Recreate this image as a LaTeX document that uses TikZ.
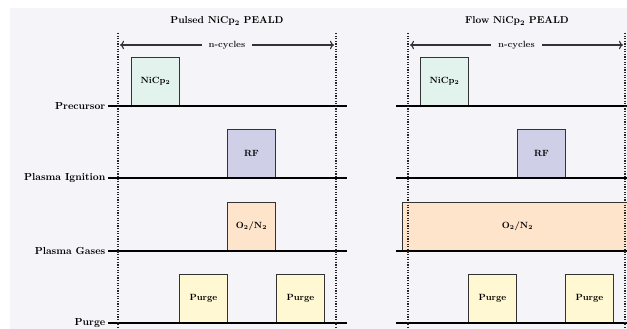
\documentclass[tikz,border=0pt]{standalone}
\usetikzlibrary{arrows.meta}
\definecolor{bgc}{HTML}{F5F5F9}
\definecolor{cNi}{HTML}{E2F3EE}
\definecolor{cRF}{HTML}{CFCFE8}
\definecolor{cGas}{HTML}{FFE4CC}
\definecolor{cPurge}{HTML}{FFF8D2}
\definecolor{edge}{HTML}{333333}
\begin{document}
\begin{tikzpicture}[x=1pt,y=-1pt,
  pulse/.style={draw=edge, line width=0.9pt, minimum width=48pt, minimum height=48pt,
    anchor=south west, inner sep=0pt, font=\fontsize{9}{10}\selectfont\bfseries},
  lbl/.style={anchor=east, inner sep=2.5pt, font=\fontsize{10.2}{12}\selectfont\bfseries},
  ttl/.style={font=\fontsize{10}{12}\selectfont\bfseries},
  base/.style={line width=1.8pt, black},
  dots/.style={line width=1.2pt, dash pattern=on 1.3pt off 1.3pt, black!85},
  cyc/.style={line width=1.1pt, edge, <->},
  cyclbl/.style={fill=bgc, inner xsep=7pt, inner ysep=1pt, font=\fontsize{9}{10}\selectfont\bfseries, text=black!85}
]
\clip (0,0) rectangle (627,329);
\fill[bgc] (10,8) rectangle (627,329);

% titles
\node[ttl] (t1) at (227,21) {Pulsed NiCp$_{\mathbf{2}}$ PEALD};
\node[ttl] (t2) at (517,21) {Flow NiCp$_{\mathbf{2}}$ PEALD};

% row labels and left baselines
\node[lbl] (lP) at (108,106) {Precursor};
\node[lbl] (lI) at (108,178) {Plasma Ignition};
\node[lbl] (lG) at (108,251) {Plasma Gases};
\node[lbl] (lU) at (108,323) {Purge};
\coordinate (eP) at (347,106);
\coordinate (eI) at (347,178);
\coordinate (eG) at (347,251);
\coordinate (eU) at (347,323);

% right baselines
\coordinate (sP) at (396,106); \coordinate (fP) at (640,106);
\coordinate (sI) at (396,178); \coordinate (fI) at (640,178);
\coordinate (sG) at (396,251); \coordinate (fG) at (640,251);
\coordinate (sU) at (396,323); \coordinate (fU) at (640,323);

% pulses left panel
\node[pulse, fill=cNi] (ni1) at (131,106) {NiCp$_{\mathbf{2}}$};
\node[pulse, fill=cRF] (rf1) at (227,178) {RF};
\node[pulse, fill=cGas] (gas1) at (227,251) {O$_{\mathbf{2}}$/N$_{\mathbf{2}}$};
\node[pulse, fill=cPurge] (pu1) at (179,323) {Purge};
\node[pulse, fill=cPurge] (pu2) at (276,323) {Purge};

% pulses right panel
\node[pulse, fill=cNi] (ni2) at (420,106) {NiCp$_{\mathbf{2}}$};
\node[pulse, fill=cRF] (rf2) at (517,178) {RF};
\node[pulse, fill=cGas, minimum width=230pt] (gas2) at (402,251) {O$_{\mathbf{2}}$/N$_{\mathbf{2}}$};
\node[pulse, fill=cPurge] (pu3) at (468,323) {Purge};
\node[pulse, fill=cPurge] (pu4) at (565,323) {Purge};

% baselines
\draw[base] (lP.east) -- (eP);
\draw[base] (lI.east) -- (eI);
\draw[base] (lG.east) -- (eG);
\draw[base] (lU.east) -- (eU);
\draw[base] (sP) -- (fP);
\draw[base] (sI) -- (fI);
\draw[base] (sG) -- (fG);
\draw[base] (sU) -- (fU);

% dotted cycle boundaries
\coordinate (d1t) at (118,33); \coordinate (d1b) at (118,335);
\coordinate (d2t) at (336,33); \coordinate (d2b) at (336,335);
\coordinate (d3t) at (408,33); \coordinate (d3b) at (408,335);
\coordinate (d4t) at (625,33); \coordinate (d4b) at (625,335);
\draw[dots] (d1t) -- (d1b);
\draw[dots] (d2t) -- (d2b);
\draw[dots] (d3t) -- (d3b);
\draw[dots] (d4t) -- (d4b);

% n-cycles arrows
\coordinate (a1l) at (120,45); \coordinate (a1r) at (334,45);
\coordinate (a2l) at (410,45); \coordinate (a2r) at (623,45);
\draw[cyc] (a1l) -- (a1r) node[midway, cyclbl] (n1) {n-cycles};
\draw[cyc] (a2l) -- (a2r) node[midway, cyclbl] (n2) {n-cycles};
\end{tikzpicture}
\end{document}
